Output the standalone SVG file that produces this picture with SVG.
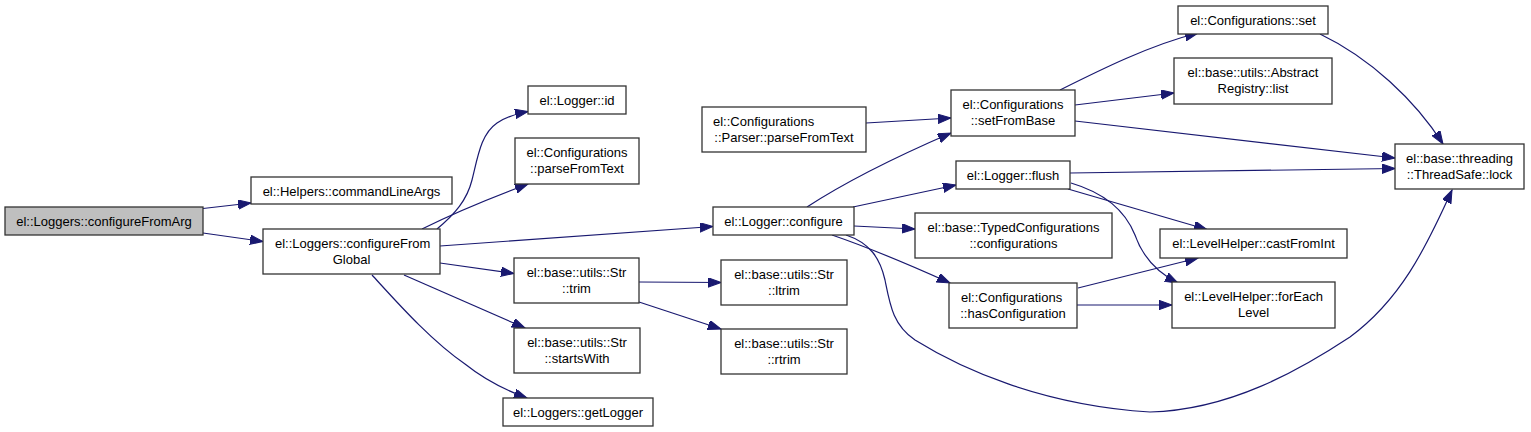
<svg xmlns="http://www.w3.org/2000/svg" width="1531" height="432" viewBox="0 0 1531 432">
<defs>
<style>
.n rect{fill:#ffffff;stroke:#333333;stroke-width:1.3}
.root rect{fill:#bfbfbf}
.n text{font-family:"Liberation Sans",Arial,sans-serif;font-size:13px;fill:#000000}
.m{text-anchor:middle}
.s{text-anchor:start}
.e path{fill:none;stroke:#191970;stroke-width:1.2;marker-end:url(#arr)}
</style>
<marker id="arr" markerUnits="userSpaceOnUse" markerWidth="14" markerHeight="10" refX="13" refY="4.7" orient="auto">
<path d="M0,0 L13,4.7 L0,9.4 Z" fill="#191970" stroke="#191970" stroke-width="1"/>
</marker>
</defs>
<rect width="1531" height="432" fill="#ffffff"/>
<g id="edges" class="e">
<path d="M203,208.5 L251,203"/>
<path d="M203,233 L263,241.5"/>
<path d="M437,229 C455,214 467,200 472,180 C478,156 481,134 497,123 C506,117 515,114 528,111.5"/>
<path d="M422,229 C450,215 485,200 528,184"/>
<path d="M440,246 L713,226.5"/>
<path d="M440,263 L514,273.5"/>
<path d="M404,275 L525,328"/>
<path d="M372,275 C395,300 430,340 465,364 C485,380 505,390 527,398"/>
<path d="M639,282 L721,282.5"/>
<path d="M639,302 L721,329"/>
<path d="M866,123 L951,118"/>
<path d="M807,207 C830,192 870,168 951,133"/>
<path d="M853,207 L956,185"/>
<path d="M854,226 L915,229"/>
<path d="M832,235 C870,248 910,265 950,283"/>
<path d="M846,235 C870,243 880,258 885,280 C890,305 893,325 915,340 C960,368 1040,405 1150,412 C1230,410 1300,370 1350,337 C1400,300 1425,250 1452,190"/>
<path d="M1060,90 C1100,70 1150,45 1198,33"/>
<path d="M1075,105 L1174,93"/>
<path d="M1075,121 L1395,158"/>
<path d="M1320,34 C1370,58 1415,100 1443,144"/>
<path d="M1070,173 L1395,168.5"/>
<path d="M1068,189 L1207,229.5"/>
<path d="M1071,183 C1105,193 1125,210 1135,235 C1143,258 1158,273 1178,283"/>
<path d="M1078,288 L1198,258"/>
<path d="M1077,305 L1172,305"/>
</g>
<g id="configureFromArg" class="n root"><rect x="5" y="207" width="198" height="28"/><text class="m" x="104" y="226">el::Loggers::configureFromArg</text></g>
<g id="commandLineArgs" class="n"><rect x="251" y="177" width="201" height="27"/><text class="m" x="351.5" y="196">el::Helpers::commandLineArgs</text></g>
<g id="configureFromGlobal" class="n"><rect x="263" y="229" width="177" height="45"/><text class="s" x="275" y="248">el::Loggers::configureFrom</text><text class="m" x="351.5" y="264">Global</text></g>
<g id="loggerId" class="n"><rect x="528" y="86" width="98" height="28"/><text class="m" x="577" y="105">el::Logger::id</text></g>
<g id="confParseFromText" class="n"><rect x="515" y="138" width="124" height="46"/><text class="m" x="577" y="157">el::Configurations</text><text class="m" x="577" y="173">::parseFromText</text></g>
<g id="parserParseFromText" class="n"><rect x="702" y="107" width="164" height="45"/><text class="s" x="713" y="126">el::Configurations</text><text class="m" x="784" y="142">::Parser::parseFromText</text></g>
<g id="loggerConfigure" class="n"><rect x="713" y="207" width="141" height="28"/><text class="m" x="783.5" y="226">el::Logger::configure</text></g>
<g id="strTrim" class="n"><rect x="514" y="258" width="125" height="45"/><text class="m" x="576.5" y="277">el::base::utils::Str</text><text class="m" x="576.5" y="293">::trim</text></g>
<g id="strLtrim" class="n"><rect x="721" y="260" width="126" height="45"/><text class="m" x="784" y="279">el::base::utils::Str</text><text class="m" x="784" y="295">::ltrim</text></g>
<g id="strStartsWith" class="n"><rect x="514" y="328" width="126" height="45"/><text class="m" x="577" y="347">el::base::utils::Str</text><text class="m" x="577" y="363">::startsWith</text></g>
<g id="strRtrim" class="n"><rect x="721" y="329" width="126" height="45"/><text class="m" x="784" y="348">el::base::utils::Str</text><text class="m" x="784" y="364">::rtrim</text></g>
<g id="getLogger" class="n"><rect x="503" y="398" width="150" height="28"/><text class="m" x="578" y="417">el::Loggers::getLogger</text></g>
<g id="confSet" class="n"><rect x="1178" y="6" width="150" height="28"/><text class="m" x="1253" y="25">el::Configurations::set</text></g>
<g id="registryList" class="n"><rect x="1174" y="58" width="158" height="46"/><text class="m" x="1253" y="77">el::base::utils::Abstract</text><text class="m" x="1253" y="93">Registry::list</text></g>
<g id="setFromBase" class="n"><rect x="951" y="90" width="124" height="46"/><text class="m" x="1013" y="109">el::Configurations</text><text class="m" x="1013" y="125">::setFromBase</text></g>
<g id="loggerFlush" class="n"><rect x="956" y="161" width="114" height="28"/><text class="m" x="1013" y="180">el::Logger::flush</text></g>
<g id="typedConfigurations" class="n"><rect x="915" y="213" width="197" height="45"/><text class="m" x="1013.5" y="232">el::base::TypedConfigurations</text><text class="m" x="1013.5" y="248">::configurations</text></g>
<g id="hasConfiguration" class="n"><rect x="949" y="283" width="128" height="45"/><text class="s" x="961" y="302">el::Configurations</text><text class="m" x="1013" y="318">::hasConfiguration</text></g>
<g id="castFromInt" class="n"><rect x="1160" y="229" width="187" height="29"/><text class="m" x="1253.5" y="248">el::LevelHelper::castFromInt</text></g>
<g id="forEachLevel" class="n"><rect x="1172" y="282" width="163" height="46"/><text class="m" x="1253.5" y="301">el::LevelHelper::forEach</text><text class="m" x="1253.5" y="317">Level</text></g>
<g id="threadSafeLock" class="n"><rect x="1395" y="144" width="129" height="45"/><text class="m" x="1459.5" y="163">el::base::threading</text><text class="m" x="1459.5" y="179">::ThreadSafe::lock</text></g>
</svg>
